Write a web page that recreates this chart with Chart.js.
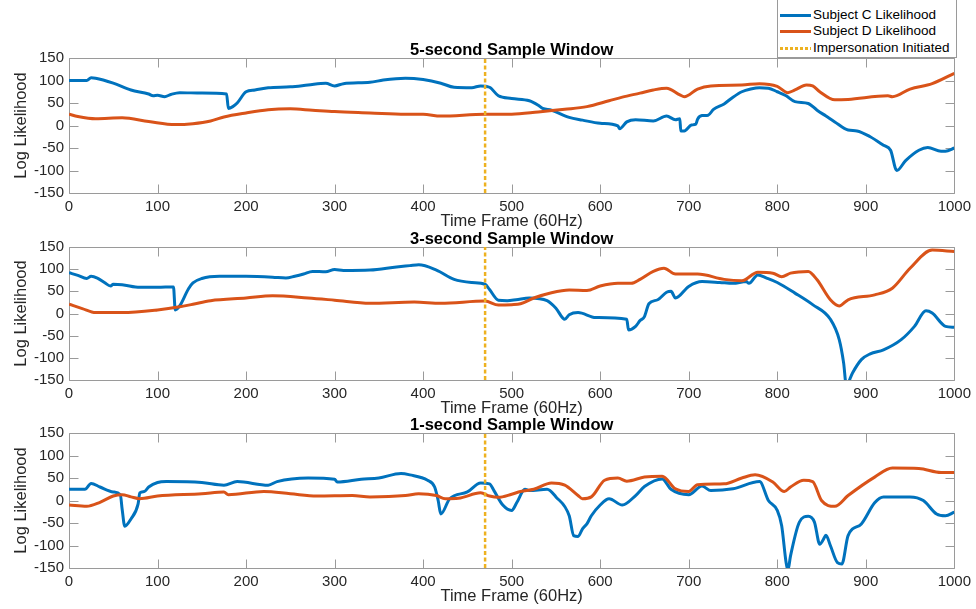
<!DOCTYPE html>
<html>
<head>
<meta charset="utf-8">
<script src="https://cdn.jsdelivr.net/npm/chart.js@4/dist/chart.umd.min.js"></script>
<style>
  html, body { margin: 0; padding: 0; background: #fff; }
  #wrap { position: relative; width: 976px; height: 609px; overflow: hidden; background: #fff; }
  #wrap canvas { position: absolute; left: 0; top: 0; }
  .lg-box { position: absolute; left: 777px; top: -10px; width: 178px; height: 66px;
            border: 1px solid #9a9a9a; background: #fff; z-index: 5; }
  .lg-line { position: absolute; left: 780px; width: 31px; height: 3px; z-index: 6; }
  .lg-text { position: absolute; left: 813px; height: 16px; line-height: 16px; z-index: 6;
             font-family: "Liberation Sans", Arial, sans-serif; font-size: 13.5px; color: #000; white-space: nowrap; }
</style>
</head>
<body>
<div id="wrap">
  <canvas id="p5" width="976" height="609"></canvas>
  <canvas id="p3" width="976" height="609"></canvas>
  <canvas id="p1" width="976" height="609"></canvas>
  <div class="lg-box"></div>
  <div class="lg-line" style="top:14px;background:#0072BD"></div>
  <div class="lg-text" style="top:7px">Subject C Likelihood</div>
  <div class="lg-line" style="top:30px;background:#D95319"></div>
  <div class="lg-text" style="top:23px">Subject D Likelihood</div>
  <div class="lg-line" style="top:47px;background:repeating-linear-gradient(90deg,#EDB120 0 3px,transparent 3px 5px)"></div>
  <div class="lg-text" style="top:40px">Impersonation Initiated</div>
</div>
<script>
// Series labels
const seriesNames = ['Subject C Likelihood', 'Subject D Likelihood', 'Impersonation Initiated'];
const impersonationFrame = 470;
const xTicks = { min: 0, max: 1000, step: 100 };
const yTicks = { min: -150, max: 150, step: 50 };

// 5-second sample window
const c5Frames = [0,20,25,30,50,70,90,95,100,108,115,125,150,178,180,185,190,200,210,225,250,270,290,300,310,340,355,380,400,420,435,455,465,475,485,500,520,530,535,545,565,580,600,620,622,630,640,660,675,685,690,691,695,703,708,710,715,722,728,740,750,760,770,780,790,800,810,820,835,845,855,865,880,890,905,920,928,935,945,960,970,985,990,1000];
const c5Values = [100,100,106,105,94,79,70,66,67,64,69,73,72,70,38,42,50,75,79,84,86,90,94,88,93,96,101,105,102,94,85,84,88,85,66,60,55,45,38,34,18,12,5,-1,-7,8,13,10,21,13,15,-12,-12,1,3,14,22,23,36,48,63,75,81,84,83,75,66,53,49,34,21,8,-10,-12,-25,-44,-55,-100,-78,-55,-49,-57,-57,-50];
const d5Frames = [0,10,30,60,90,120,140,160,175,200,225,250,275,300,340,380,400,420,470,500,530,560,585,610,625,645,660,675,690,695,710,725,760,780,800,812,820,833,840,848,865,880,925,930,950,975,1000];
const d5Values = [25,20,15,17,9,2,4,10,19,28,35,37,34,31,28,25,25,21,25,25,30,36,42,55,63,72,79,83,68,64,81,88,90,93,87,73,79,90,88,75,57,58,66,64,81,93,116];

// 3-second sample window
const c3Frames = [0,10,20,25,32,40,47,50,60,80,100,118,120,125,135,140,150,170,200,230,245,255,265,275,290,300,310,340,370,385,395,415,435,455,470,475,485,495,505,520,540,550,560,565,575,595,630,632,640,645,650,655,665,675,680,685,700,715,735,750,765,768,778,788,800,820,840,860,870,875,878,885,895,905,920,940,955,968,975,990,1000];
const c3Values = [92,86,79,84,80,70,62,66,65,59,59,60,8,17,56,69,79,84,84,82,80,84,89,95,94,99,97,98,105,108,110,98,77,70,66,54,30,29,31,35,29,12,-13,-3,2,-9,-13,-37,-29,-16,-7,22,31,48,50,35,61,72,70,68,72,68,87,80,70,46,20,-13,-59,-112,-162,-134,-104,-91,-82,-59,-29,6,1,-29,-31];
const d3Frames = [0,15,30,60,100,125,140,160,200,230,270,300,340,390,420,470,485,500,510,525,545,565,585,600,620,635,645,660,672,685,710,740,760,778,795,805,815,835,845,860,870,880,910,930,950,975,1000];
const d3Values = [21,11,2,2,8,15,21,29,35,40,35,30,23,26,23,28,19,20,22,35,47,53,52,62,68,68,77,95,102,89,89,77,74,93,91,83,91,95,76,31,17,31,42,57,102,143,140];

// 1-second sample window
const c1Frames = [0,18,25,35,50,58,60,63,70,78,80,85,90,100,110,150,175,190,225,235,270,300,303,330,350,375,385,405,413,417,420,430,450,465,475,480,490,500,506,515,520,540,550,565,570,575,580,585,590,600,610,625,640,650,670,680,700,715,725,750,780,790,800,805,810,812,815,825,835,842,848,852,855,860,868,873,880,895,910,920,950,965,980,990,1000];
const c1Values = [25,25,38,30,19,13,-19,-57,-41,-8,17,20,30,40,42,40,34,42,34,42,50,47,41,47,50,60,57,45,30,0,-30,4,19,39,37,22,-10,-22,-4,25,22,25,8,-34,-78,-80,-63,-52,-34,-10,4,-10,11,31,48,25,13,32,22,26,42,0,-22,-56,-138,-155,-123,-48,-35,-48,-97,-87,-77,-100,-138,-141,-78,-52,-5,8,8,0,-30,-34,-26];
const d1Frames = [0,20,35,50,60,70,80,100,150,175,180,220,250,280,320,340,380,395,415,425,440,465,475,485,500,510,525,545,560,575,580,590,605,620,630,650,670,685,700,710,740,760,775,795,808,815,830,840,850,865,880,910,930,960,985,1000];
const d1Values = [-10,-13,-4,10,13,8,4,10,15,19,13,20,15,10,11,8,11,15,11,4,5,17,10,7,14,20,25,39,34,11,4,8,45,50,43,52,54,26,20,35,37,50,57,41,20,30,45,42,0,-13,11,52,72,71,62,62];

const FONT = '"Liberation Sans", Arial, sans-serif';
const TICK_COLOR = '#262626';
const AXIS_COLOR = '#9a9a9a';

function toPoints(xs, ys) {
  return xs.map((x, i) => ({ x: x, y: ys[i] }));
}

// Boxed axes with inward tick marks on all four sides
const boxAxes = {
  id: 'boxAxes',
  beforeDatasetsDraw(chart) {
    const { ctx, chartArea: a, scales } = chart;
    const tl = 9;
    ctx.save();
    ctx.strokeStyle = AXIS_COLOR;
    ctx.lineWidth = 1;
    ctx.beginPath();
    const L = Math.round(a.left) + 0.5, R = Math.round(a.right) + 0.5;
    const T = Math.round(a.top) + 0.5, B = Math.round(a.bottom) + 0.5;
    ctx.rect(L, T, R - L, B - T);
    scales.x.ticks.forEach(t => {
      const px = Math.round(scales.x.getPixelForValue(t.value)) + 0.5;
      ctx.moveTo(px, B); ctx.lineTo(px, B - tl);
      ctx.moveTo(px, T); ctx.lineTo(px, T + tl);
    });
    scales.y.ticks.forEach(t => {
      const py = Math.round(scales.y.getPixelForValue(t.value)) + 0.5;
      ctx.moveTo(L, py); ctx.lineTo(L + tl, py);
      ctx.moveTo(R, py); ctx.lineTo(R - tl, py);
    });
    ctx.stroke();
    ctx.restore();
  }
};

function makePanel(id, title, cF, cV, dF, dV, padTop, padBottom) {
  return new Chart(document.getElementById(id), {
    type: 'line',
    data: {
      datasets: [
        {
          label: seriesNames[0], data: toPoints(cF, cV), order: 2,
          borderColor: '#0072BD', borderWidth: 3, pointRadius: 0,
          cubicInterpolationMode: 'monotone'
        },
        {
          label: seriesNames[1], data: toPoints(dF, dV), order: 1,
          borderColor: '#D95319', borderWidth: 3, pointRadius: 0,
          cubicInterpolationMode: 'monotone'
        },
        {
          label: seriesNames[2], order: 0,
          data: [{ x: impersonationFrame, y: yTicks.min }, { x: impersonationFrame, y: yTicks.max }],
          borderColor: '#EDB120', borderWidth: 2.5, borderDash: [4, 2.5], pointRadius: 0
        }
      ]
    },
    options: {
      responsive: false,
      animation: false,
      events: [],
      layout: { padding: { left: 12, right: 20, top: padTop, bottom: padBottom } },
      plugins: {
        legend: { display: false },
        tooltip: { enabled: false },
        title: {
          display: true, text: title, color: '#000', fullSize: false,
          font: { family: FONT, size: 16.5, weight: 'bold', lineHeight: 16 / 16.5 },
          padding: { top: 0, bottom: 0 }
        }
      },
      scales: {
        x: {
          type: 'linear', min: xTicks.min, max: xTicks.max,
          grid: { display: false, drawTicks: false },
          border: { display: false },
          ticks: { stepSize: xTicks.step, color: TICK_COLOR, padding: 5,
                   callback: v => String(v),
                   font: { family: FONT, size: 15, lineHeight: 1.2 } },
          title: { display: true, text: 'Time Frame (60Hz)', color: TICK_COLOR,
                   padding: { top: 0, bottom: 0 },
                   font: { family: FONT, size: 16.5, lineHeight: 1.2 } },
          afterFit(s) { s.height = 38; }
        },
        y: {
          min: yTicks.min, max: yTicks.max,
          grid: { display: false, drawTicks: false },
          border: { display: false },
          ticks: { stepSize: yTicks.step, color: TICK_COLOR, padding: 5,
                   callback: v => String(v),
                   font: { family: FONT, size: 15, lineHeight: 1.2 } },
          title: { display: true, text: 'Log Likelihood', color: TICK_COLOR,
                   padding: { top: 0, bottom: 0 },
                   font: { family: FONT, size: 16.5, lineHeight: 1.2 } },
          afterFit(s) { s.width = 57; }
        }
      }
    },
    plugins: [boxAxes]
  });
}

makePanel('p5', '5-second Sample Window', c5Frames, c5Values, d5Frames, d5Values, 42, 378);
makePanel('p3', '3-second Sample Window', c3Frames, c3Values, d3Frames, d3Values, 231, 191);
makePanel('p1', '1-second Sample Window', c1Frames, c1Values, d1Frames, d1Values, 417, 3);
</script>
</body>
</html>
